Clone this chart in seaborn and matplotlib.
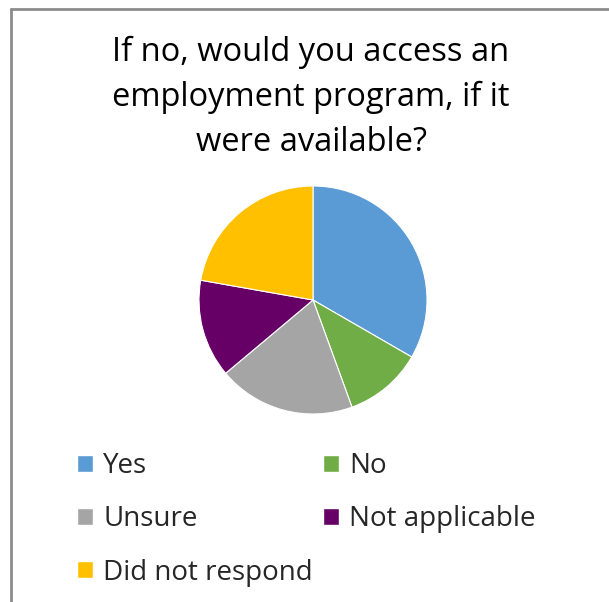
import matplotlib
matplotlib.use("Agg")
import matplotlib.pyplot as plt
from matplotlib.patches import Patch
from matplotlib.lines import Line2D
import seaborn as sns

# Survey responses
categories = ["Yes", "No", "Unsure", "Not applicable", "Did not respond"]
counts = [12, 4, 7, 5, 8]
colors = ["#5B9BD5", "#70AD47", "#A5A5A5", "#660066", "#FFC000"]
title = "If no, would you access an\nemployment program, if it\nwere available?"

sns.set_theme(style="white")
plt.rcParams["font.family"] = ["Open Sans", "DejaVu Sans"]

W, H = 609, 602
fig = plt.figure(figsize=(W / 100, H / 100), dpi=100)
fig.patch.set_facecolor("white")

# Chart-area frame (top and left edges visible)
fig.add_artist(Line2D([10.5 / W, 10.5 / W], [0, 1 - 8.5 / H], transform=fig.transFigure,
                      color="#8C8C8C", lw=2))
fig.add_artist(Line2D([10.5 / W, 1], [1 - 8.5 / H, 1 - 8.5 / H], transform=fig.transFigure,
                      color="#8C8C8C", lw=2))

fig.text(311 / W, 1 - 97 / H, title, ha="center", va="center", fontsize=23.5,
         linespacing=1.47, color="#000000")

# Pie
cx, cy, r = 313, 300, 114
ax = fig.add_axes([(cx - r) / W, 1 - (cy + r) / H, 2 * r / W, 2 * r / H])
ax.pie(counts, colors=colors, startangle=90, counterclock=False,
       wedgeprops=dict(edgecolor="white", linewidth=0.8))
ax.set_xlim(-1, 1)
ax.set_ylim(-1, 1)
ax.set_aspect("equal")
ax.axis("off")

# Legend in two columns, filled row by row
order = [0, 2, 4, 1, 3]
handles = [Patch(facecolor=colors[i], edgecolor="white", label=categories[i]) for i in order]
fig.legend(handles=handles, loc="upper left", bbox_to_anchor=(77 / W, 1 - 452 / H),
           ncol=2, frameon=False, fontsize=20, handlelength=0.58, handleheight=0.55,
           handletextpad=0.36, labelspacing=0.91, columnspacing=0.36,
           borderpad=0, borderaxespad=0)

fig.savefig("out.png", dpi=100, facecolor="white")
